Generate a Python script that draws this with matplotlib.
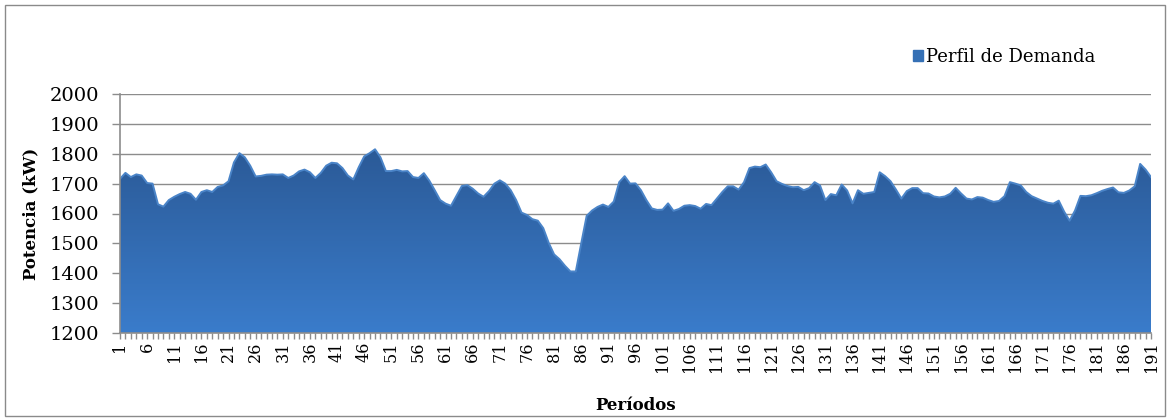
import numpy as np
import matplotlib
matplotlib.use("Agg")
import matplotlib.pyplot as plt
from matplotlib.patches import Patch, Rectangle
from matplotlib.colors import LinearSegmentedColormap

# Demand profile (kW) for periods 1..191
periods = list(range(1, 192))
demand = [
    1716, 1736, 1722, 1731, 1727, 1702, 1700, 1631, 1623, 1645,
    1656, 1665, 1672, 1666, 1646, 1672, 1678, 1672, 1689, 1694,
    1708, 1771, 1802, 1788, 1760, 1724, 1726, 1730, 1731, 1730,
    1731, 1719, 1727, 1741, 1747, 1738, 1719, 1736, 1760, 1770,
    1768, 1752, 1727, 1714, 1755, 1791, 1802, 1815, 1788, 1742,
    1742, 1746, 1741, 1742, 1722, 1719, 1735, 1710, 1678, 1645,
    1633, 1626, 1659, 1692, 1695, 1683, 1667, 1656, 1675, 1700,
    1711, 1700, 1678, 1645, 1603, 1595, 1581, 1576, 1551, 1502,
    1463, 1447, 1425, 1406, 1406, 1500, 1592, 1610, 1622, 1630,
    1622, 1640, 1705, 1725, 1700, 1701, 1678, 1645, 1617, 1612,
    1613, 1634, 1609, 1615, 1626, 1628, 1625, 1616, 1632, 1628,
    1650, 1672, 1691, 1691, 1680, 1705, 1752, 1757, 1755, 1764,
    1738, 1708, 1699, 1692, 1688, 1689, 1678, 1685, 1705, 1694,
    1645, 1665, 1661, 1697, 1677, 1634, 1678, 1666, 1669, 1672,
    1738, 1725, 1708, 1680, 1650, 1675, 1685, 1685, 1668, 1667,
    1657, 1654, 1657, 1666, 1686, 1667, 1650, 1647, 1655, 1653,
    1645, 1639, 1642, 1658, 1705, 1700, 1694, 1672, 1658, 1650,
    1642, 1636, 1633, 1643, 1606, 1576, 1610, 1659, 1658, 1661,
    1668, 1676, 1682, 1687, 1671, 1669, 1677, 1691, 1766, 1747,
    1722,
]
y_ticks = [1200, 1300, 1400, 1500, 1600, 1700, 1800, 1900, 2000]
x_label_every = 5
series_name = "Perfil de Demanda"

plt.rcParams["font.family"] = ["DejaVu Serif", "Liberation Serif"]

W, H = 1170, 420
fig = plt.figure(figsize=(W / 100, H / 100), dpi=100)

# outer chart border
fig.patches.append(Rectangle((5 / W, 4 / H), 1 - 10 / W, 1 - 9 / H,
                             transform=fig.transFigure, fill=False,
                             edgecolor="#8a8a8a", linewidth=1.0))

left, right, top, bottom = 120, 1151, 94, 333
ax = fig.add_axes([left / W, 1 - bottom / H, (right - left) / W, (bottom - top) / H])

x = np.array(periods)
y = np.array(demand, dtype=float)
ymin, ymax = y_ticks[0], y_ticks[-1]

ax.set_xlim(x[0], x[-1])
ax.set_ylim(ymin, ymax)

# horizontal gridlines
for t in y_ticks[1:]:
    ax.axhline(t, color="#8c8c8c", linewidth=1.0, zorder=1)

# area with vertical gradient fill
poly = ax.fill_between(x, ymin, y, facecolor="none", edgecolor="none", zorder=2)
cmap = LinearSegmentedColormap.from_list("blue_grad", ["#2b5a97", "#3a7ccb"])
grad = np.linspace(0, 1, 256).reshape(-1, 1)
img = ax.imshow(grad, cmap=cmap, aspect="auto", origin="upper",
                extent=[x[0], x[-1], ymin, y.max()], zorder=2,
                interpolation="bilinear")
img.set_clip_path(poly.get_paths()[0], transform=ax.transData)
ax.plot(x, y, color="#4a84c8", linewidth=1.4, zorder=3, solid_joinstyle="round")

# axes styling
for s in ("top", "right"):
    ax.spines[s].set_visible(False)
for s in ("left", "bottom"):
    ax.spines[s].set_color("#8c8c8c")
    ax.spines[s].set_linewidth(1.2)
    ax.spines[s].set_zorder(4)

ax.set_yticks(y_ticks)
ax.set_yticklabels([str(t) for t in y_ticks])
ax.set_xticks(periods)
ax.set_xticklabels([str(p) if (p - 1) % x_label_every == 0 else "" for p in periods],
                   rotation=90)
ax.tick_params(axis="x", direction="out", length=4, width=1, color="#8c8c8c",
               labelsize=11.5, pad=2)
ax.tick_params(axis="y", direction="out", length=6, width=1, color="#8c8c8c",
               labelsize=14, pad=9)

ax.set_ylabel("Potencia (kW)", fontsize=12, fontweight="bold", labelpad=7)
ax.set_xlabel("Períodos", fontsize=12, fontweight="bold", labelpad=18)

fig.legend(handles=[Patch(facecolor="#3570b5", edgecolor="#3570b5", label=series_name)],
           loc="center left", bbox_to_anchor=(913 / W, 1 - 57 / H),
           frameon=False, fontsize=13, handlelength=0.55, handleheight=0.55,
           handletextpad=0.15, borderpad=0, borderaxespad=0)

fig.savefig("out.png", dpi=100)
